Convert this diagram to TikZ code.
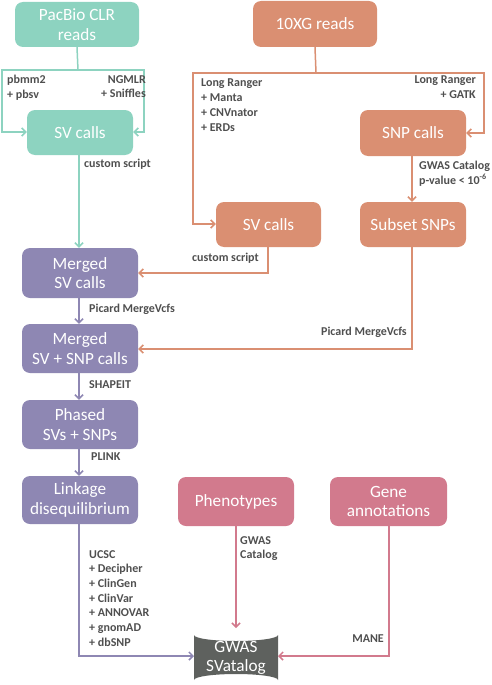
\documentclass[tikz,border=0pt]{standalone}
\usepackage{fontspec}
\setmainfont{Carlito}
\usetikzlibrary{arrows.meta}
\definecolor{teal}{HTML}{8DD3C0}
\definecolor{orng}{HTML}{DA8F72}
\definecolor{purp}{HTML}{8E87B3}
\definecolor{pink}{HTML}{D27A8D}
\definecolor{dgray}{HTML}{5E615E}
\definecolor{lbl}{HTML}{4F4F4F}
\tikzset{
  box/.style={rounded corners=8pt, text=white, align=center, font=\fontsize{17.2}{19.5}\selectfont, inner sep=0pt},
  lab/.style={text=lbl, font=\fontsize{12}{14.7}\selectfont\bfseries, inner sep=0pt},
  conn/.style={line width=1.5pt, -{Straight Barb[length=4pt,width=8pt]}},
  plain/.style={line width=1.5pt},
}
\newcommand{\bx}[6]{%
  \node[box, fill=#6, minimum width={#3-#2}, minimum height={#5-#4}] (#1) at ({(#2+#3)/2},{(#4+#5)/2}) {};}
\begin{document}
\begin{tikzpicture}[x=1pt,y=-1pt]
\useasboundingbox (0,0) rectangle (492,685);
% boxes
\bx{pac}{15}{139}{2}{47}{teal}
\node[box] at (pac) {PacBio CLR\\reads};
\bx{svt}{27}{133}{110}{155}{teal}
\node[box] at (svt) {SV calls};
\bx{tenx}{253}{377}{1}{47}{orng}
\node[box] at (tenx) {10XG reads};
\bx{svo}{216}{321}{202}{247}{orng}
\node[box] at (svo) {SV calls};
\bx{snp}{360}{466}{110}{156}{orng}
\node[box] at (snp) {SNP calls};
\bx{sub}{360}{466}{202}{247}{orng}
\node[box] at (sub) {Subset SNPs};
\bx{msv}{22}{138}{248}{298}{purp}
\node[box] at (msv) {Merged\\SV calls};
\bx{msnp}{22}{138}{324}{373}{purp}
\node[box] at (msnp) {Merged\\SV + SNP calls};
\bx{pha}{22}{138}{400}{449}{purp}
\node[box] at (pha) {Phased\\SVs + SNPs};
\bx{ld}{22}{138}{476}{524}{purp}
\node[box] at (ld) {Linkage\\disequilibrium};
\bx{phe}{178}{294}{477}{526}{pink}
\node[box] at (phe) {Phenotypes};
\bx{gene}{330}{447}{477}{526}{pink}
\node[box] at (gene) {Gene\\annotations};
% cylinder
\fill[dgray] (194,635) arc[start angle=180,end angle=0,x radius=42,y radius=6] -- (278,680) arc[start angle=0,end angle=-180,x radius=42,y radius=6] -- cycle;
\coordinate (dbw) at (194,656);
\coordinate (dbe) at (278,656);
\coordinate (dbn) at (236,628);
\node[box] (db) at (236,658) {GWAS\\SVatalog};
% teal connectors
\draw[plain, teal] (pac.south) -- (78,70);
\draw[conn, teal] (78,70) -- (2,70) -- (2,132) -- (svt.west |- 0,132);
\draw[conn, teal] (78,70) -- (144,70) -- (144,132) -- (svt.east |- 0,132);
\draw[conn, teal] (svt.south -| 79,0) -- (msv.north -| 79,0);
% orange connectors
\draw[plain, orng] (tenx.south) -- (316,73);
\draw[conn, orng] (316,73) -- (193,73) -- (193,224) -- (svo.west |- 0,224);
\draw[conn, orng] (316,73) -- (484,73) -- (484,133) -- (snp.east |- 0,133);
\draw[conn, orng] (snp.south -| 412,0) -- (sub.north -| 412,0);
\draw[conn, orng] (svo.south -| 268,0) -- (268,273) -- (msv.east |- 0,273);
\draw[conn, orng] (sub.south -| 412,0) -- (412,349) -- (msnp.east |- 0,349);
% purple connectors
\draw[conn, purp] (msv.south -| 79,0) -- (msnp.north -| 79,0);
\draw[conn, purp] (msnp.south -| 79,0) -- (pha.north -| 79,0);
\draw[conn, purp] (pha.south -| 79,0) -- (ld.north -| 79,0);
\draw[conn, purp] (ld.south -| 79,0) -- (79,656) -- (dbw);
% pink connectors
\draw[conn, pink] (phe.south -| 236,0) -- (dbn);
\draw[conn, pink] (gene.south -| 389,0) -- (389,656) -- (dbe);
% labels
\node[lab, anchor=north west, align=left] (l1) at (7,75) {pbmm2\\+ pbsv};
\node[lab, anchor=north east, align=right] (l2) at (146,75) {NGMLR\\+ Sniffles};
\node[lab, anchor=north west] (l3) at (84,159) {custom script};
\node[lab, anchor=north west, align=left] (l4) at (201,79) {Long Ranger\\+ Manta\\+ CNVnator\\+ ERDs};
\node[lab, anchor=north east, align=right] (l5) at (476,76) {Long Ranger\\+ GATK};
\node[lab, anchor=north west, align=left] (l6) at (419,161) {GWAS Catalog\\p-value < 10\textsuperscript{-6}};
\node[lab, anchor=north east] (l7) at (259,253) {custom script};
\node[lab, anchor=north east] (l8) at (407,327) {Picard MergeVcfs};
\node[lab, anchor=north west] (l9) at (89,304) {Picard MergeVcfs};
\node[lab, anchor=north west] (l10) at (89,380) {SHAPEIT};
\node[lab, anchor=north west] (l11) at (91,453) {PLINK};
\node[lab, anchor=north west, align=left] (l12) at (89,550) {UCSC\\+ Decipher\\+ ClinGen\\+ ClinVar\\+ ANNOVAR\\+ gnomAD\\+ dbSNP};
\node[lab, anchor=north west, align=left] (l13) at (240,536) {GWAS\\Catalog};
\node[lab, anchor=north east] (l14) at (384,635) {MANE};
\end{tikzpicture}
\end{document}
